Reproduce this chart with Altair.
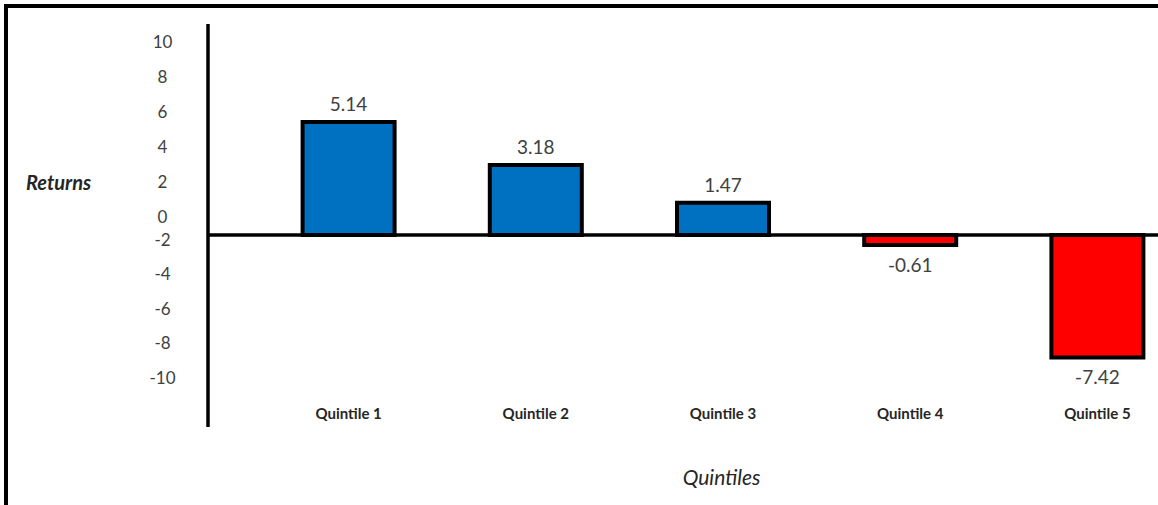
import altair as alt
import pandas as pd

# ---- data ----
quintiles = ["Quintile 1", "Quintile 2", "Quintile 3", "Quintile 4", "Quintile 5"]
returns = [5.14, 3.18, 1.47, -0.61, -7.42]
y_ticks = [10, 8, 6, 4, 2, 0, -2, -4, -6, -8, -10]

bars_df = pd.DataFrame({"quintile": quintiles, "ret": returns})
ticks_df = pd.DataFrame({"tick": y_ticks})
one_df = pd.DataFrame({"k": [0]})

W, H = 950, 376
FONT = "Lato"
PAD = {"left": 208, "top": 24, "right": 0, "bottom": 105}
HYPHEN = "replace(format(datum.ret, '.2f'), '\u2212', '-')"

# ---- y axis labels (the source chart's label spacing is uneven) ----
axis_layer = alt.Chart(ticks_df).mark_point(opacity=0).encode(
    y=alt.Y(
        "tick:Q",
        scale=alt.Scale(domain=[-10, -2, 0, 10], range=[354, 216, 193, 18.7], nice=False, zero=False),
        axis=alt.Axis(
            values=y_ticks, title="Returns", domain=False, ticks=False, grid=False,
            labelExpr="'' + datum.value",
            labelAlign="center", labelBaseline="middle", labelPadding=46,
            labelFont=FONT, labelFontSize=17, labelColor="#404040",
            labelFlush=False, labelOverlap=False,
            titleAngle=0, titleX=-150, titleY=159, titleAlign="center", titleBaseline="middle",
            titleFont=FONT, titleFontSize=20, titleFontStyle="italic", titleFontWeight="bold",
            titleColor="#262626",
        ),
    )
)

# ---- bars ----
xscale = alt.Scale(range=[47, 983], paddingInner=0, paddingOuter=0)
yscale = alt.Scale(domain=[-10, 0, 10], range=[376, 211, -9], nice=False, zero=False)

xenc = alt.X(
    "quintile:N", sort=quintiles, scale=xscale,
    axis=alt.Axis(
        title="Quintiles", domain=False, ticks=False, grid=False, labelAngle=0,
        labelPadding=6, labelFont=FONT, labelFontSize=15, labelFontWeight="bold",
        labelColor="#262626",
        titleX=513, titleY=78, titleAlign="center", titleBaseline="middle",
        titleFont=FONT, titleFontSize=21, titleFontStyle="italic", titleFontWeight="normal",
        titleColor="#262626",
    ),
)

bars = alt.Chart(bars_df).mark_bar(width=92, stroke="black", strokeWidth=4).encode(
    x=xenc,
    y=alt.Y("ret:Q", scale=yscale, axis=None),
    y2=alt.datum(0),
    color=alt.condition(alt.datum.ret > 0, alt.value("#0070C0"), alt.value("#FF0000")),
)

lab_pos = alt.Chart(bars_df).transform_filter("datum.ret > 0").transform_calculate(
    lbl=HYPHEN
).mark_text(
    font=FONT, fontSize=19, color="#404040", baseline="middle", dy=-17
).encode(
    x=alt.X("quintile:N", sort=quintiles, scale=xscale),
    y=alt.Y("ret:Q", scale=yscale, axis=None),
    text="lbl:N",
)

lab_neg = alt.Chart(bars_df).transform_filter("datum.ret < 0").transform_calculate(
    lbl=HYPHEN
).mark_text(
    font=FONT, fontSize=19, color="#404040", baseline="middle", dy=21
).encode(
    x=alt.X("quintile:N", sort=quintiles, scale=xscale),
    y=alt.Y("ret:Q", scale=yscale, axis=None),
    text="lbl:N",
)

zero_rule = alt.Chart(one_df).mark_rule(color="black", strokeWidth=3.5).encode(
    y=alt.YDatum(0, axis=None),
    x=alt.value(0),
    x2=alt.value(W),
)

inner = alt.layer(bars, lab_pos, lab_neg, zero_rule)

# ---- decorations: vertical axis line and frame ----
axis_line = alt.Chart(one_df).mark_rule(color="black", strokeWidth=3.5).encode(
    x=alt.value(0), y=alt.value(0), y2=alt.value(403)
)
frame_top = alt.Chart(one_df).mark_rule(color="black", strokeWidth=4).encode(
    x=alt.value(-204), x2=alt.value(W), y=alt.value(-18)
)
frame_left = alt.Chart(one_df).mark_rule(color="black", strokeWidth=4).encode(
    x=alt.value(-202), y=alt.value(-20), y2=alt.value(H + 105)
)

chart = (
    alt.layer(frame_top, frame_left, axis_line, axis_layer, inner)
    .resolve_scale(y="independent")
    .properties(width=W, height=H, autosize=alt.AutoSizeParams(type="none"), padding=PAD,
                background="white")
    .configure_view(strokeWidth=0)
)

chart.save("out.html", embed_options={"renderer": "svg", "actions": False})
